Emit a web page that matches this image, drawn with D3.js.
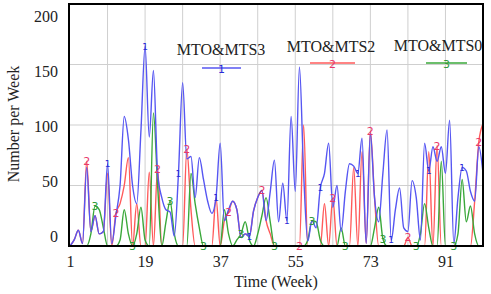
<!DOCTYPE html>
<html>
<head>
<meta charset="utf-8">
<script src="https://cdn.jsdelivr.net/npm/d3@7"></script>
<style>
  body { margin: 0; background: #fff; }
  svg { display: block; }
</style>
</head>
<body>
<div id="chart"></div>
<script>
// weeks 1..100
var weeks = d3.range(1, 101);

var mts3 = [0, 5, 13, 2, 65, 12, 25, 10, 12, 68,
            2, 25, 50, 107, 88, 50, 35, 95, 165, 90,
            145, 60, 40, 30, 28, 8, 60, 135, 72, 74,
            40, 73, 55, 37, 27, 40, 85, 21, 30, 37,
            30, 7, 10, 8, 29, 40, 46, 21, 45, 71,
            20, 52, 21, 107, 45, 148, 60, 4, 21, 15,
            48, 60, 85, 32, 50, 12, 45, 68, 66, 60,
            89, 2, 93, 40, 20, 60, 96, 5, 30, 48,
            15, 12, 54, 40, 5, 85, 62, 82, 70, 82,
            60, 104, 2, 40, 65, 62, 45, 37, 82, 60];

var mts2 = [0, 5, 13, 2, 70, 12, 25, 10, 12, 60,
            0, 27, 35, 50, 73, 0, 35, 0, 0, 61,
            0, 64, 0, 0, 0, 0, 0, 0, 80, 30,
            0, 0, 0, 0, 0, 40, 0, 21, 28, 37,
            30, 7, 10, 8, 29, 40, 46, 21, 10, 0,
            0, 0, 0, 0, 0, 0, 100, 0, 0, 0,
            0, 35, 0, 40, 0, 0, 0, 0, 65, 0,
            78, 2, 95, 40, 0, 0, 0, 0, 0, 0,
            0, 7, 0, 0, 0, 0, 78, 0, 83, 0,
            0, 0, 0, 0, 0, 0, 0, 37, 86, 101];

var mts0 = [0, 0, 0, 0, 0, 10, 33, 30, 15, 0,
            0, 0, 5, 30, 10, 0, 10, 32, 5, 0,
            110, 50, 0, 20, 37, 10, 0, 0, 0, 60,
            35, 15, 0, 0, 0, 0, 0, 30, 10, 0,
            5, 10, 20, 5, 0, 10, 25, 40, 20, 0,
            0, 0, 0, 0, 0, 0, 0, 5, 21, 20,
            5, 0, 0, 0, 0, 15, 0, 0, 0, 0,
            0, 0, 0, 15, 32, 6, 0, 0, 0, 0,
            0, 0, 0, 0, 10, 35, 15, 0, 0, 70,
            0, 0, 0, 10, 55, 20, 33, 10, 0, 0];

// weeks where Vensim puts the series number on the line
var marks3 = [10, 19, 27, 36, 44, 53, 61, 70, 78, 87, 95];
var marks2 = [5, 12, 22, 29, 39, 47, 56, 64, 73, 82, 89, 99];
var marks0 = [7, 16, 25, 33, 42, 50, 59, 67, 76, 84, 93];

var xTicks = [1, 19, 37, 55, 73, 91];
var xGrid = [10, 19, 28, 37, 46, 55, 64, 73, 82, 91];
var yTicks = [0, 50, 100, 150, 200];
var yGrid = [50, 100, 150];

var series = [
    {name: "MTO&MTS2", num: "2", values: mts2, marks: marks2, color: "#ff5a5a", label: "#e8386a", fs: 11},
    {name: "MTO&MTS0", num: "3", values: mts0, marks: marks0, color: "#3aa83a", label: "#2f9a3a", fs: 11},
    {name: "MTO&MTS3", num: "1", values: mts3, marks: marks3, color: "#5656f2", label: "#2a2ad8", fs: 9}
];

var width = 491, height = 294;
var serif = "'Liberation Serif', 'Times New Roman', serif";

var svg = d3.select("#chart")
            .append("svg")
            .attr("width", width)
            .attr("height", height);

var x = d3.scaleLinear().domain([1, 100]).range([70, 483]);
var y = d3.scaleLinear().domain([0, 200]).range([246, 4]);
// Vensim squeezes the y labels a bit tighter than the grid
var yLab = d3.scaleLinear().domain([0, 200]).range([236, 16]);

// grid
svg.append("g")
    .selectAll("line")
    .data(xGrid)
    .join("line")
    .attr("x1", d => x(d)).attr("x2", d => x(d))
    .attr("y1", y(200)).attr("y2", y(0))
    .attr("stroke", "#cfcfcf")
    .attr("stroke-width", 1);

svg.append("g")
    .selectAll("line")
    .data(yGrid)
    .join("line")
    .attr("x1", x(1)).attr("x2", x(100))
    .attr("y1", d => y(d)).attr("y2", d => y(d))
    .attr("stroke", "#cfcfcf")
    .attr("stroke-width", 1);

// lines
var line = d3.line()
            .x((d, i) => x(weeks[i]))
            .y(d => y(d))
            .curve(d3.curveMonotoneX);

svg.append("g")
    .selectAll("path")
    .data(series)
    .join("path")
    .attr("d", d => line(d.values))
    .attr("fill", "none")
    .attr("stroke", d => d.color)
    .attr("stroke-width", 1.4)
    .attr("stroke-linejoin", "round");

// series numbers on the lines
series.forEach(function(s) {
    svg.append("g")
        .selectAll("text")
        .data(s.marks)
        .join("text")
        .attr("x", d => x(d))
        .attr("y", d => y(s.values[d - 1]) + s.fs * 0.36)
        .attr("text-anchor", "middle")
        .style("font", s.fs + "px 'DejaVu Sans', sans-serif")
        .style("fill", s.label)
        .text(s.num);
});

// frame
svg.append("rect")
    .attr("x", x(1) - 1)
    .attr("y", y(200))
    .attr("width", x(100) - x(1) + 1)
    .attr("height", y(0) - y(200))
    .attr("fill", "none")
    .attr("stroke", "#000")
    .attr("stroke-width", 2);

// axes
var xAxis = svg.append("g")
    .attr("transform", "translate(0," + y(0) + ")")
    .call(d3.axisBottom(x).tickValues(xTicks).tickSize(0).tickPadding(10));
xAxis.select(".domain").remove();
xAxis.selectAll("text").style("font", "16px " + serif).style("fill", "#222");

var yAxis = svg.append("g")
    .attr("transform", "translate(" + (x(1) - 12) + ",0)")
    .call(d3.axisLeft(yLab).tickValues(yTicks).tickSize(0).tickPadding(0));
yAxis.select(".domain").remove();
yAxis.selectAll("text").style("font", "16px " + serif).style("fill", "#222");

// axis titles
svg.append("text")
    .attr("x", 276)
    .attr("y", 287)
    .attr("text-anchor", "middle")
    .style("font", "16px " + serif)
    .style("fill", "#222")
    .text("Time (Week)");

svg.append("text")
    .attr("transform", "translate(19,124) rotate(-90)")
    .attr("text-anchor", "middle")
    .style("font", "16px " + serif)
    .style("fill", "#222")
    .text("Number per Week");

// legend
var legend = [
    {s: series[2], tx: 221, ty: 55, lx1: 202, lx2: 241, ly: 68},
    {s: series[0], tx: 331, ty: 52, lx1: 310, lx2: 355, ly: 63},
    {s: series[1], tx: 438, ty: 51, lx1: 426, lx2: 467, ly: 63}
];

var lg = svg.append("g")
            .selectAll("g")
            .data(legend)
            .join("g");

lg.append("text")
    .attr("x", d => d.tx)
    .attr("y", d => d.ty)
    .attr("text-anchor", "middle")
    .style("font", "16px " + serif)
    .style("fill", "#222")
    .text(d => d.s.name);

lg.append("line")
    .attr("x1", d => d.lx1).attr("x2", d => d.lx2)
    .attr("y1", d => d.ly).attr("y2", d => d.ly)
    .attr("stroke", d => d.s.color)
    .attr("stroke-width", 1.3);

lg.append("text")
    .attr("x", d => (d.lx1 + d.lx2) / 2)
    .attr("y", d => d.ly + 5)
    .attr("text-anchor", "middle")
    .style("font", "11px 'DejaVu Sans', sans-serif")
    .style("fill", d => d.s.label)
    .text(d => d.s.num);
</script>
</body>
</html>
